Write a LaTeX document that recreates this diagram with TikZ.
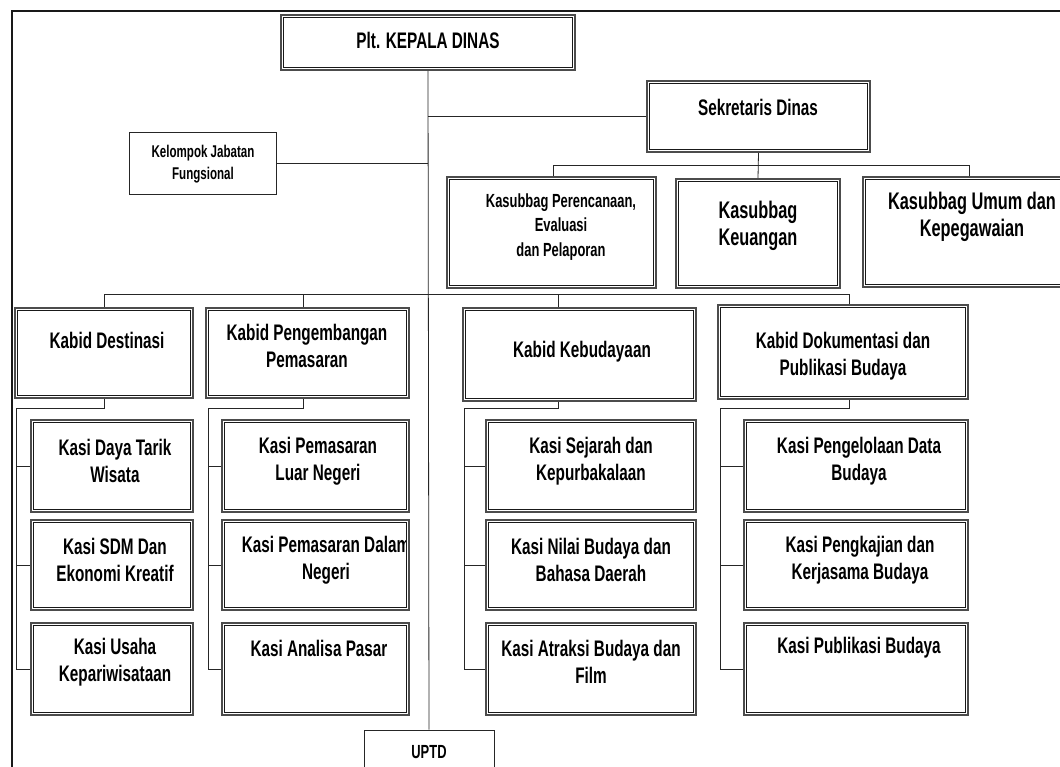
\documentclass[tikz,border=0pt]{standalone}
\usepackage{fontspec}
\setmainfont{Liberation Sans}[FakeStretch=0.68]
\usetikzlibrary{fit,calc}
\begin{document}
\begin{tikzpicture}[x=1pt,y=-1pt,
  dbox/.style={draw=black!70, line width=1.8pt, fill=white, inner sep=0pt},
  dinner/.style={draw=black!90, line width=0.7pt},
  sbox/.style={draw=black!85, line width=0.9pt, fill=white, inner sep=0pt},
  lbl/.style={font=\bfseries\fontsize{22.5}{27.5}\selectfont, align=center, inner sep=0pt},
  small/.style={lbl, font=\bfseries\fontsize{19}{24.5}\selectfont},
  tiny/.style={lbl, font=\bfseries\fontsize{17}{22}\selectfont},
  big/.style={lbl, font=\bfseries\fontsize{24}{27}\selectfont},
  link/.style={draw=black!85, line width=0.8pt},
  frame/.style={draw=black!90, line width=1.6pt}]
\useasboundingbox (0,0) rectangle (1060,767);
\clip (0,0) rectangle (1060,767);
\fill[white] (0,0) rectangle (1060,767);
\draw[frame] (12,790) -- (12,11) -- (1090,11);

% top level
\node[dbox, fit={(281,15) (575,70)}] (kepala) {};
\node[lbl] (kepala-t) at (428,40) {Plt. KEPALA DINAS};
\node[dbox, fit={(647,81) (870,152)}] (sek) {};
\node[lbl] (sek-t) at (758,107) {Sekretaris Dinas};
\node[sbox, fit={(129,132) (276,194)}] (kjf) {};
\node[tiny] (kjf-t) at (203,164) {Kelompok Jabatan\\Fungsional};

% sub-sections of the secretariat
\node[dbox, fit={(447,177) (656,288)}] (ksp) {};
\node[small] (ksp-t) at (561,227) {Kasubbag Perencanaan,\\Evaluasi\\dan Pelaporan};
\node[dbox, fit={(676,179) (840,288)}] (ksk) {};
\node[big] (ksk-t) at (758,226) {Kasubbag\\Keuangan};
\node[dbox, fit={(863,177) (1075,287)}] (ksu) {};
\node[big] (ksu-t) at (972,217) {Kasubbag Umum dan\\Kepegawaian};

% divisions
\node[dbox, fit={(15,308) (193,398)}] (kb1) {};
\node[lbl] (kb1-t) at (107,340) {Kabid Destinasi};
\node[dbox, fit={(206,308) (409,398)}] (kb2) {};
\node[lbl] (kb2-t) at (307,346) {Kabid Pengembangan\\Pemasaran};
\node[dbox, fit={(463,308) (696,401)}] (kb3) {};
\node[lbl] (kb3-t) at (582,352) {Kabid Kebudayaan};
\node[dbox, fit={(718,305) (968,399)}] (kb4) {};
\node[lbl] (kb4-t) at (843,356) {Kabid Dokumentasi dan\\Publikasi Budaya};

% sections, column 1
\node[dbox, fit={(31,420) (193,512)}] (k11) {};
\node[lbl] (k11-t) at (115,461) {Kasi Daya Tarik\\Wisata};
\node[dbox, fit={(31,520) (193,610)}] (k12) {};
\node[lbl] (k12-t) at (115,560) {Kasi SDM Dan\\Ekonomi Kreatif};
\node[dbox, fit={(31,623) (193,715)}] (k13) {};
\node[lbl] (k13-t) at (115,662) {Kasi Usaha\\Kepariwisataan};

% sections, column 2
\node[dbox, fit={(222,420) (409,512)}] (k21) {};
\node[lbl] (k21-t) at (318,461) {Kasi Pemasaran\\Luar Negeri};
\node[dbox, fit={(222,520) (409,610)}] (k22) {};
\begin{scope}
  \clip (226,524) rectangle (405.5,606);
  \node[lbl] (k22-t) at (326,560) {Kasi Pemasaran Dalam\\Negeri};
\end{scope}
\node[dbox, fit={(222,623) (409,715)}] (k23) {};
\node[lbl] (k23-t) at (319,648) {Kasi Analisa Pasar};

% sections, column 3
\node[dbox, fit={(486,420) (696,512)}] (k31) {};
\node[lbl] (k31-t) at (591,461) {Kasi Sejarah dan\\Kepurbakalaan};
\node[dbox, fit={(486,520) (696,610)}] (k32) {};
\node[lbl] (k32-t) at (591,560) {Kasi Nilai Budaya dan\\Bahasa Daerah};
\node[dbox, fit={(486,623) (696,715)}] (k33) {};
\node[lbl] (k33-t) at (591,662) {Kasi Atraksi Budaya dan\\Film};

% sections, column 4
\node[dbox, fit={(744,420) (968,512)}] (k41) {};
\node[lbl] (k41-t) at (859,461) {Kasi Pengelolaan Data\\Budaya};
\node[dbox, fit={(744,520) (968,610)}] (k42) {};
\node[lbl] (k42-t) at (860,560) {Kasi Pengkajian dan\\Kerjasama Budaya};
\node[dbox, fit={(744,623) (968,715)}] (k43) {};
\node[lbl] (k43-t) at (859,648) {Kasi Publikasi Budaya};

% inner line of every double-framed box
\foreach \n in {kepala,sek,ksp,ksk,ksu,kb1,kb2,kb3,kb4,k11,k12,k13,k21,k22,k23,k31,k32,k33,k41,k42,k43}
  \draw[dinner] ($(\n.north west)+(3.3,3.3)$) rectangle ($(\n.south east)+(-3.3,-3.3)$);

% technical unit
\node[sbox, fit={(364,730) (494,800)}] (uptd) {};
\node[small] (uptd-t) at (429,752) {UPTD};

% main trunk and side links
\draw[link] (kepala.south) -- (uptd.north);
\draw[link] (kjf.east) -- (kjf.east -| kepala.south);
\draw[link] (sek.west -| kepala.south) -- (sek.west);

% secretariat bus
\coordinate (sbus) at (0,165);
\draw[link] ([xshift=2pt]ksp.north) -- ([xshift=2pt]ksp.north |- sbus) -- (ksu.north |- sbus) -- (ksu.north);
\draw[link] (sek.south) -- (ksk.north);

% division bus
\coordinate (bus) at (0,294);
\draw[link] (kb1.north) -- (kb1.north |- bus) -- ([xshift=6pt]kb4.north |- bus) -- ([xshift=6pt]kb4.north);
\draw[link] ([xshift=-4pt]kb2.north) -- ([xshift=-4pt]kb2.north |- bus);
\draw[link] ([xshift=-21pt]kb3.north) -- ([xshift=-21pt]kb3.north |- bus);

% division to section links
\coordinate (b1) at (16,408);
\coordinate (b2) at (208,408);
\coordinate (b3) at (464,408);
\coordinate (b4) at (720,408);
\draw[link] (kb1.south) |- (b1) |- (k13.west);
\draw[link] (k11.west) -- (k11.west -| b1);
\draw[link] (k12.west) -- (k12.west -| b1);
\draw[link] ([xshift=-4pt]kb2.south) |- (b2) |- (k23.west);
\draw[link] (k21.west) -- (k21.west -| b2);
\draw[link] (k22.west) -- (k22.west -| b2);
\draw[link] ([xshift=-21pt]kb3.south) |- (b3) |- (k33.west);
\draw[link] (k31.west) -- (k31.west -| b3);
\draw[link] (k32.west) -- (k32.west -| b3);
\draw[link] ([xshift=6pt]kb4.south) |- (b4) |- (k43.west);
\draw[link] (k41.west) -- (k41.west -| b4);
\draw[link] (k42.west) -- (k42.west -| b4);
\end{tikzpicture}
\end{document}
